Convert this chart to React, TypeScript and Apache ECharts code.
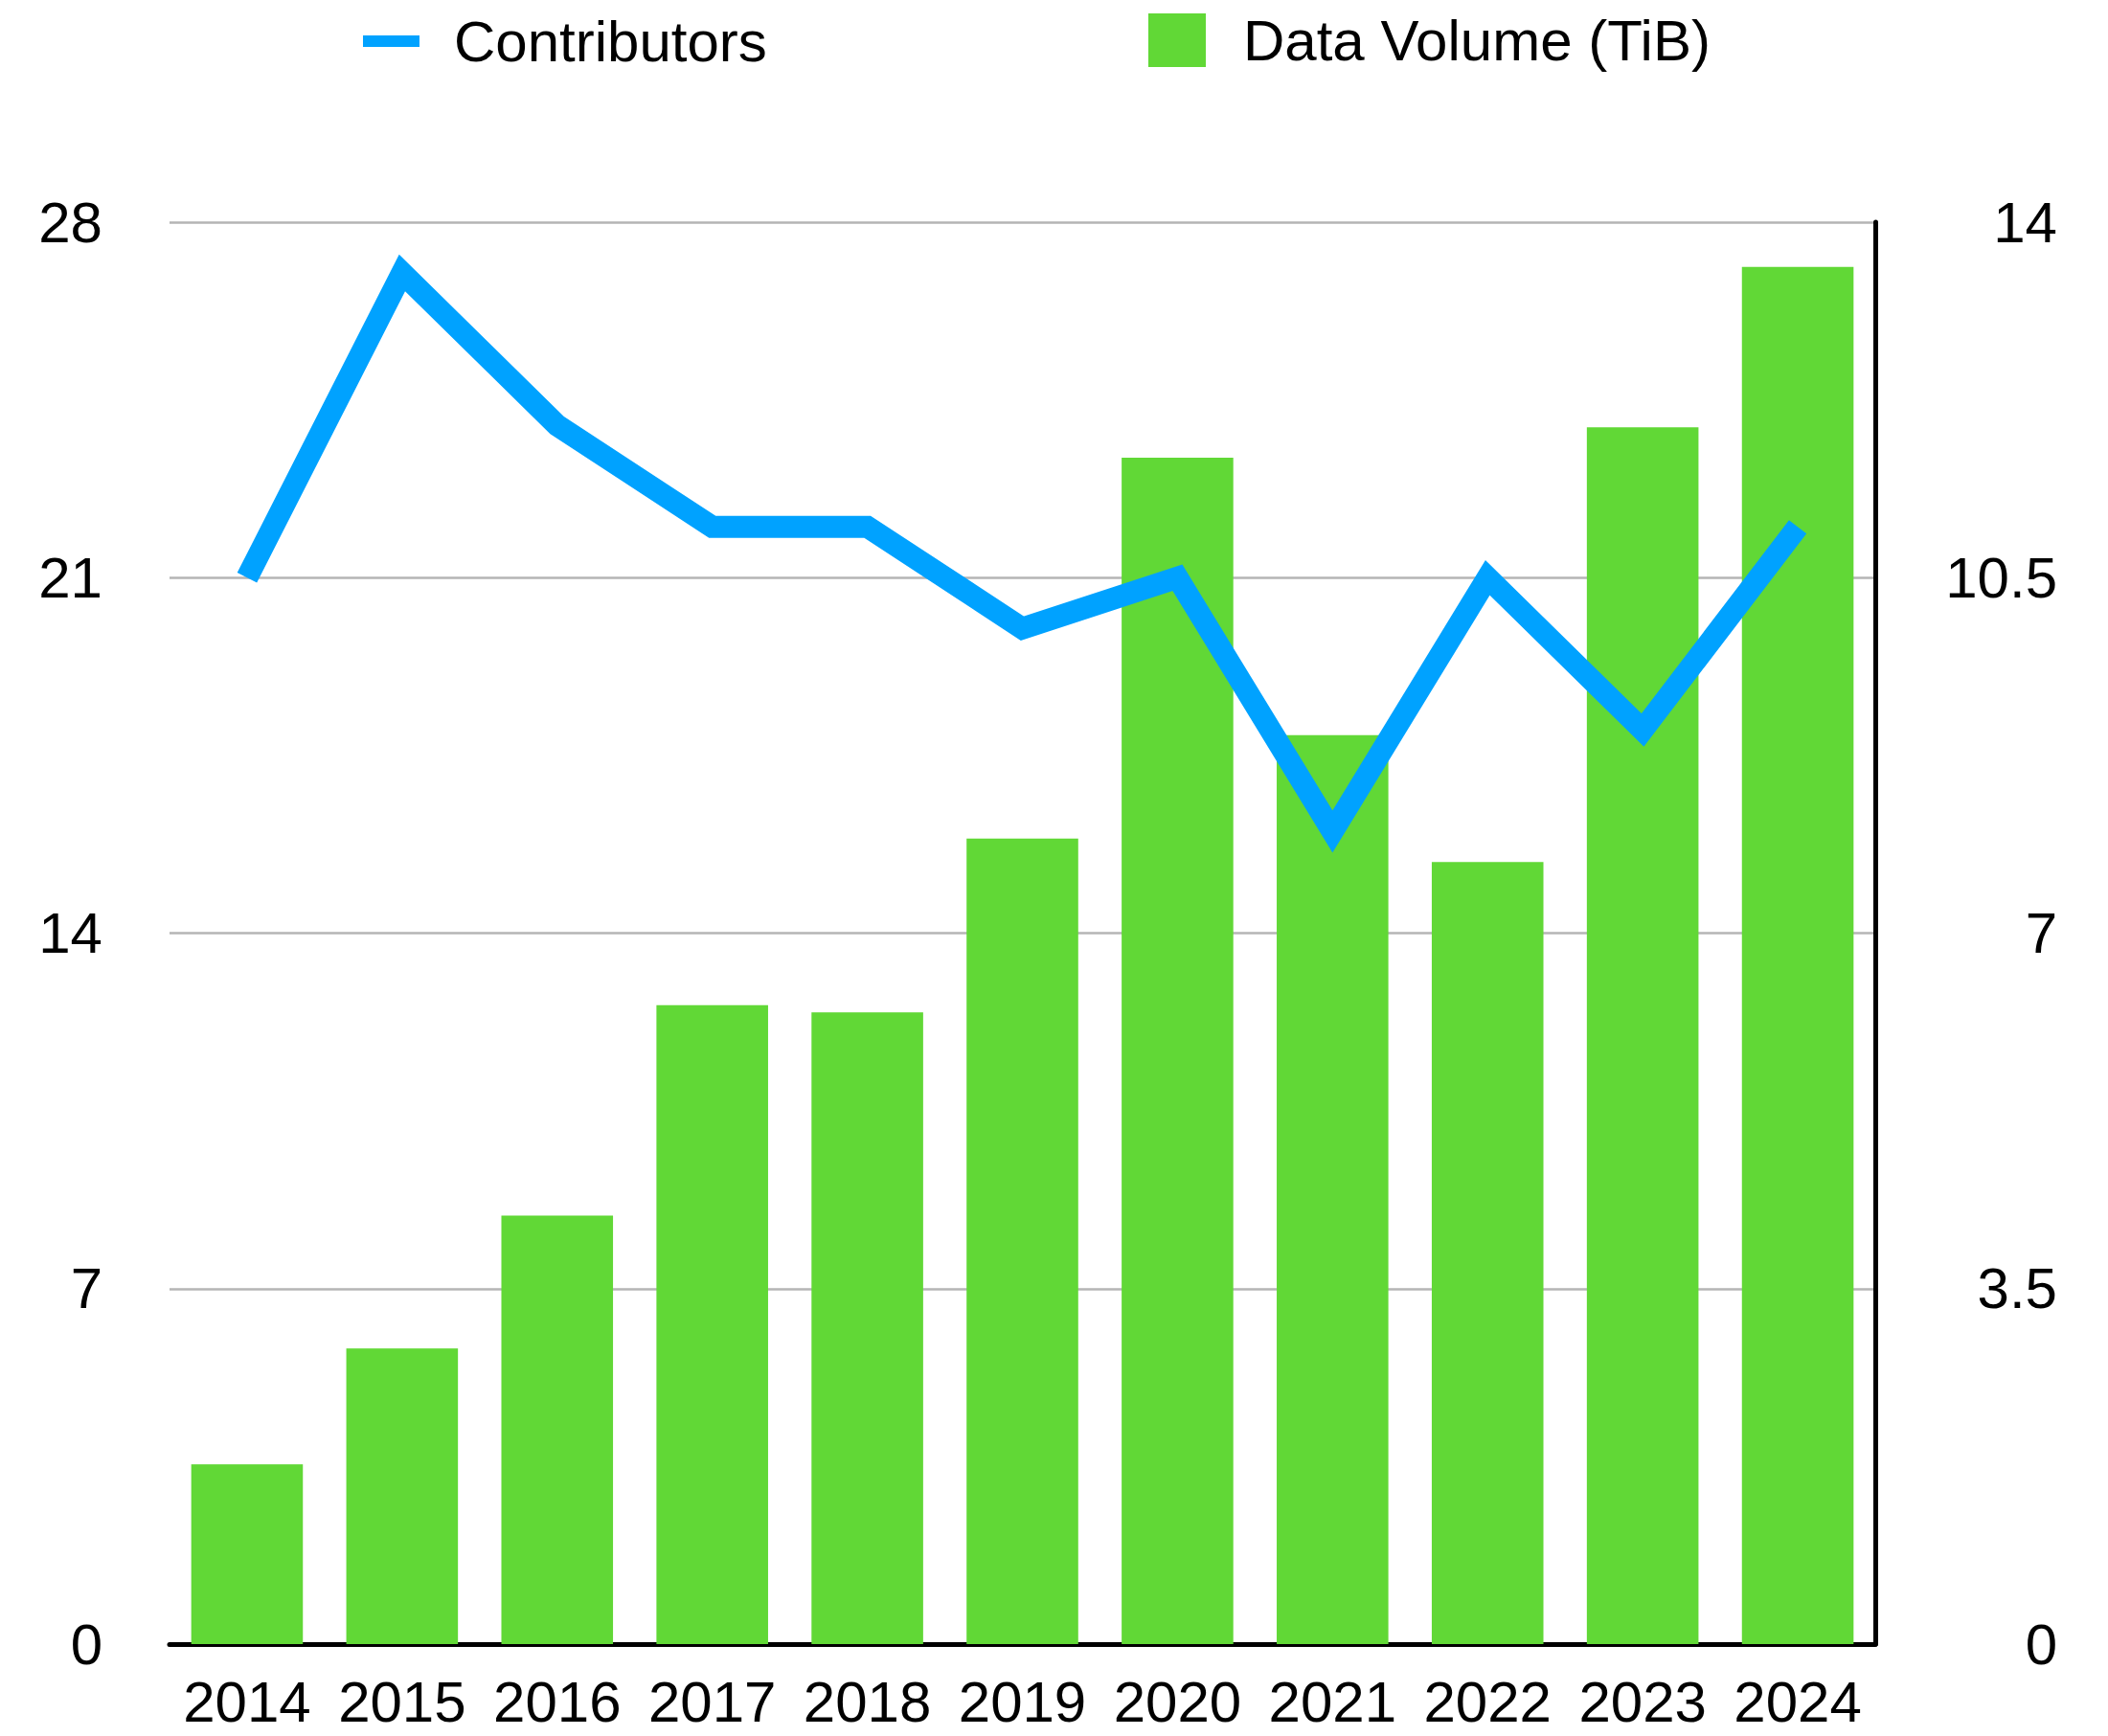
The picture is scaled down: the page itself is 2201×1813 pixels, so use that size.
import React, { useEffect, useRef } from "react";
import * as echarts from "echarts";

const years = ["2014", "2015", "2016", "2017", "2018", "2019", "2020", "2021", "2022", "2023", "2024"];
const contributors = [21, 27, 24, 22, 22, 20, 21, 16, 21, 18, 22];
const dataVolume = [1.77, 2.91, 4.22, 6.29, 6.22, 7.93, 11.68, 8.95, 7.7, 11.98, 13.56];
const leftTicks = { min: 0, max: 28, interval: 7 };
const rightTicks = { min: 0, max: 14, interval: 3.5 };

const FONT = "'Liberation Sans', Arial, Helvetica, sans-serif";
const BLUE = "#00A2FF";
const GREEN = "#61D836";

export default function App() {
  const ref = useRef<HTMLDivElement>(null);
  useEffect(() => {
    document.body.style.margin = "0";
    const chart = echarts.init(ref.current!, null, { renderer: "svg" });
    chart.setOption({
      animation: false,
      backgroundColor: "#ffffff",
      textStyle: { fontFamily: FONT },
      legend: [
        {
          data: [{ name: "Contributors", icon: "rect" }],
          left: 379,
          top: 13,
          padding: 0,
          itemWidth: 59,
          itemHeight: 12,
          textStyle: { fontSize: 60, color: "#000", fontFamily: FONT, padding: [0, 0, 0, 31] },
        },
        {
          data: [{ name: "Data Volume (TiB)", icon: "rect" }],
          left: 1199,
          top: 12,
          padding: 0,
          itemWidth: 60,
          itemHeight: 56,
          textStyle: { fontSize: 60, color: "#000", fontFamily: FONT, padding: [0, 0, 0, 34] },
        },
      ],
      grid: { left: 177, right: 243, top: 232, bottom: 96, containLabel: false },
      xAxis: {
        type: "category",
        data: years,
        boundaryGap: true,
        axisLine: { show: true, lineStyle: { color: "#000", width: 5 } },
        axisTick: { show: false },
        axisLabel: { interval: 0, fontSize: 60, lineHeight: 44, color: "#000", margin: 38, fontFamily: FONT },
        splitLine: { show: false },
      },
      yAxis: [
        {
          type: "value",
          position: "left",
          ...leftTicks,
          axisLine: { show: false },
          axisTick: { show: false },
          axisLabel: { fontSize: 60, color: "#000", margin: 70, fontFamily: FONT },
          splitLine: { show: true, lineStyle: { color: "#b5b5b5", width: 2.5 } },
        },
        {
          type: "value",
          position: "right",
          ...rightTicks,
          axisLine: { show: true, lineStyle: { color: "#000", width: 5 } },
          axisTick: { show: false },
          axisLabel: {
            fontSize: 60,
            color: "#000",
            margin: 190,
            align: "right",
            fontFamily: FONT,
            formatter: (v: number) => String(v),
          },
          splitLine: { show: false },
        },
      ],
      series: [
        {
          name: "Data Volume (TiB)",
          type: "bar",
          yAxisIndex: 1,
          data: dataVolume,
          barCategoryGap: "28%",
          itemStyle: { color: GREEN },
          z: 2,
        },
        {
          name: "Contributors",
          type: "line",
          yAxisIndex: 0,
          data: contributors,
          symbol: "none",
          lineStyle: { color: BLUE, width: 23, cap: "butt", join: "miter" },
          itemStyle: { color: BLUE },
          z: 3,
        },
      ],
    });
    return () => chart.dispose();
  }, []);
  return <div ref={ref} style={{ width: 2201, height: 1813 }} />;
}
